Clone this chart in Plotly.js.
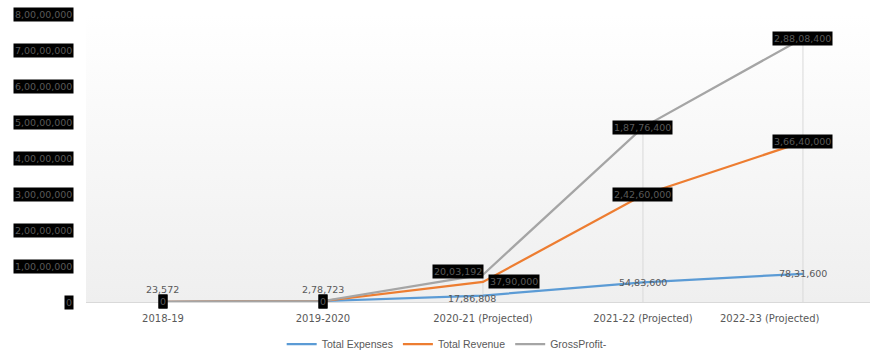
<!DOCTYPE html>
<html>
<head>
<meta charset="utf-8">
<script src="https://cdn.plot.ly/plotly-3.0.1.min.js"></script>
<style>
  html, body { margin: 0; padding: 0; background: #ffffff; }
  #chart { width: 870px; height: 353px; }
</style>
</head>
<body>
<div id="chart"></div>
<script>
// ---- data ----
const categories = ['2018-19', '2019-2020', '2020-21 (Projected)', '2021-22 (Projected)', '2022-23 (Projected)'];
const seriesNames = ['Total Expenses', 'Total Revenue', 'GrossProfit-'];
const totalExpenses = [23572, 278723, 1786808, 5483600, 7831600];
const totalRevenue = [0, 0, 3790000, 24260000, 36640000];
const grossProfit = [0, 0, 2003192, 18776400, 28808400];
const yTickValues = [0, 10000000, 20000000, 30000000, 40000000, 50000000, 60000000, 70000000, 80000000];

// ---- helpers ----
function formatIN(n) {
  const neg = n < 0;
  let s = String(Math.round(Math.abs(n)));
  if (s.length > 3) {
    const last3 = s.slice(-3);
    let rest = s.slice(0, -3);
    const parts = [];
    while (rest.length > 2) { parts.unshift(rest.slice(-2)); rest = rest.slice(0, -2); }
    if (rest.length) parts.unshift(rest);
    s = parts.join(',') + ',' + last3;
  }
  return (neg ? '-' : '') + s;
}

const colors = ['#5B9BD5', '#ED7D31', '#A5A5A5'];
const series = [totalExpenses, totalRevenue, grossProfit];
const cumulative = series.map((_, k) => categories.map((_, i) => {
  let s = 0; for (let j = 0; j <= k; j++) s += series[j][i]; return s;
}));
const topLine = cumulative[cumulative.length - 1];

// drop lines from the top stacked point to the axis
const dropX = [], dropY = [];
categories.forEach((c, i) => {
  if (topLine[i] > 0) { dropX.push(c, c, null); dropY.push(0, topLine[i], null); }
});

const traces = [{
  x: dropX, y: dropY, mode: 'lines', type: 'scatter',
  line: { color: '#d9d9d9', width: 1 }, showlegend: false, hoverinfo: 'skip'
}];
series.forEach((vals, k) => {
  traces.push({
    x: categories, y: vals, name: seriesNames[k], type: 'scatter', mode: 'lines',
    stackgroup: 'one', fill: 'none',
    line: { color: colors[k], width: 2.25 }
  });
});

const labelFont = { family: 'DejaVu Sans', size: 9.5, color: '#595959' };
const annotations = [];

// y tick labels with black boxes
yTickValues.forEach(v => {
  annotations.push({
    xref: 'paper', yref: 'y', x: 0, y: v, xanchor: 'right', yanchor: 'middle',
    xshift: -12, text: formatIN(v), showarrow: false,
    bgcolor: '#000000', borderpad: 1,
    font: { family: 'DejaVu Sans', size: 9.5, color: '#595959' }
  });
});

// data labels
categories.forEach((c, i) => {
  // expenses (no box)
  annotations.push({
    xref: 'x', yref: 'y', x: c, y: cumulative[0][i], text: formatIN(totalExpenses[i]),
    showarrow: false, font: labelFont, xanchor: 'center', yanchor: 'middle',
    yshift: (totalRevenue[i] === 0 ? 12 : (totalRevenue[i] < 5000000 ? -3 : 0)),
    xshift: (totalRevenue[i] > 0 && totalRevenue[i] < 5000000 ? -11 : 0)
  });
  // revenue (boxed)
  const revSmall = totalRevenue[i] > 0 && totalRevenue[i] < 5000000;
  annotations.push({
    xref: 'x', yref: 'y', x: c, y: cumulative[1][i], text: formatIN(totalRevenue[i]),
    showarrow: false, font: labelFont, bgcolor: '#000000', borderpad: 1,
    xanchor: revSmall ? 'left' : 'center', xshift: revSmall ? 5 : 0, yanchor: 'middle'
  });
  // gross profit (boxed)
  const gpSmall = grossProfit[i] > 0 && grossProfit[i] < 5000000;
  annotations.push({
    xref: 'x', yref: 'y', x: c, y: cumulative[2][i], text: formatIN(grossProfit[i]),
    showarrow: false, font: labelFont, bgcolor: '#000000', borderpad: 1,
    xanchor: gpSmall ? 'right' : 'center', xshift: gpSmall ? 1 : 0, yshift: gpSmall ? 3 : 0,
    yanchor: 'middle'
  });
});

// last x tick label is pulled inward as in the reference
const tickText = categories.map((c, i) => i === categories.length - 1 ? '' : c);
annotations.push({
  xref: 'x', yref: 'paper', x: categories[categories.length - 1], y: 0, yanchor: 'middle',
  yshift: -16, xshift: -33, text: categories[categories.length - 1], showarrow: false,
  font: { family: 'DejaVu Sans', size: 10, color: '#595959' }
});

const gradSvg = '<svg xmlns="http://www.w3.org/2000/svg" width="10" height="100" preserveAspectRatio="none">' +
  '<defs><linearGradient id="g" x1="0" y1="0" x2="0" y2="1">' +
  '<stop offset="0" stop-color="#ffffff"/><stop offset="1" stop-color="#efefef"/></linearGradient></defs>' +
  '<rect width="10" height="100" fill="url(#g)"/></svg>';

const layout = {
  width: 870, height: 353,
  margin: { l: 86, r: 0, t: 14, b: 51, pad: 0 },
  paper_bgcolor: '#ffffff', plot_bgcolor: 'rgba(0,0,0,0)',
  showlegend: true,
  font: { family: 'DejaVu Sans', size: 10, color: '#595959' },
  xaxis: {
    type: 'category', range: [-0.481, 4.419], tickvals: categories, ticktext: tickText,
    showline: true, linecolor: '#d9d9d9', linewidth: 1, showgrid: false, zeroline: false,
    ticks: '', ticklabelstandoff: 7,
    tickfont: { family: 'DejaVu Sans', size: 10, color: '#595959' }, fixedrange: true
  },
  yaxis: {
    range: [0, 80000000], showticklabels: false, showgrid: false, zeroline: false,
    showline: false, ticks: '', fixedrange: true
  },
  legend: {
    orientation: 'h', xref: 'container', x: 0.514, xanchor: 'center',
    yref: 'container', y: 9 / 353, yanchor: 'middle',
    font: { family: 'Liberation Sans', size: 10.5, color: '#595959' },
    itemwidth: 30, bgcolor: 'rgba(0,0,0,0)'
  },
  images: [{
    source: 'data:image/svg+xml;charset=utf-8,' + encodeURIComponent(gradSvg),
    xref: 'paper', yref: 'paper', x: 0, y: 1, sizex: 1, sizey: 1,
    sizing: 'stretch', layer: 'below', xanchor: 'left', yanchor: 'top'
  }],
  annotations: annotations,
  hovermode: false
};

Plotly.newPlot('chart', traces, layout, { displayModeBar: false, staticPlot: true });
</script>
</body>
</html>
